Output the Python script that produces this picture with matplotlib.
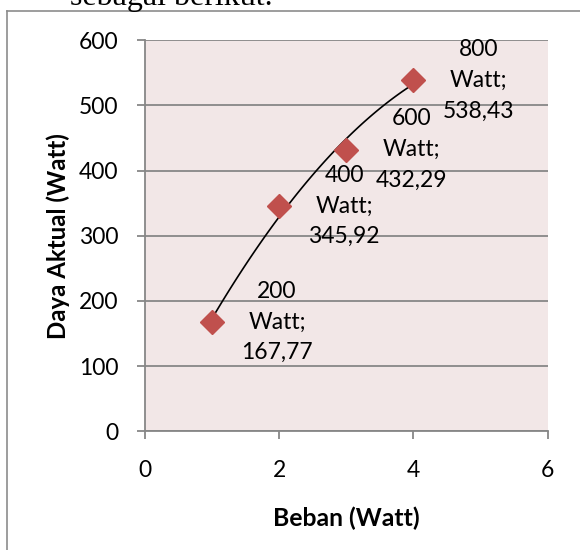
import numpy as np
import matplotlib
matplotlib.use("Agg")
import matplotlib.pyplot as plt
from matplotlib.lines import Line2D

# ---------- Data ----------
beban = [1, 2, 3, 4]
daya_aktual = [167.77, 345.92, 432.29, 538.43]
beban_label = ["200 Watt", "400 Watt", "600 Watt", "800 Watt"]
daya_label = ["167,77", "345,92", "432,29", "538,43"]

x_ticks = [0, 2, 4, 6]
y_ticks = [0, 100, 200, 300, 400, 500, 600]

plt.rcParams['font.family'] = ['Lato', 'DejaVu Sans']

W, H = 580, 550
fig = plt.figure(figsize=(W / 100, H / 100), dpi=100)

# chart border (cut off at right and bottom like the document crop)
fig.add_artist(Line2D([6.5 / W, 6.5 / W], [0, 1 - 10.8 / H], transform=fig.transFigure,
                      color="#8c8c8c", lw=1.2))
fig.add_artist(Line2D([6.5 / W, 1], [1 - 10.8 / H, 1 - 10.8 / H], transform=fig.transFigure,
                      color="#8c8c8c", lw=1.2))

# text from the document above the chart
fig.text(70 / W, 1 - 5.5 / H, "sebagai berikut.", family="Liberation Serif",
         fontsize=23, ha="left", va="baseline")

# ---------- Plot area ----------
ax = fig.add_axes([145 / W, 1 - 431.3 / H, 402.7 / W, 391 / H])
ax.set_facecolor("#f2e7e7")
ax.set_xlim(0, 6)
ax.set_ylim(0, 600)
ax.set_xticks(x_ticks)
ax.set_yticks(y_ticks)
ax.grid(axis="y", color="#878787", lw=1.3)
ax.set_axisbelow(True)

for side in ["top", "right"]:
    ax.spines[side].set_visible(False)
for side in ["left", "bottom"]:
    ax.spines[side].set_color("#878787")
    ax.spines[side].set_linewidth(1.3)

ax.tick_params(axis="both", length=6, width=1.3, color="#878787", labelsize=16.5)
ax.tick_params(axis="y", pad=13)
ax.tick_params(axis="x", pad=15)

# Trendline (polynomial order 2)
coef = np.polyfit(beban, daya_aktual, 2)
xs = np.linspace(min(beban), max(beban), 100)
ax.plot(xs, np.polyval(coef, xs), color="black", lw=1.2, zorder=3)

ax.plot(beban, daya_aktual, linestyle="none", marker="D", markersize=12.5,
        color="#c0504d", zorder=4)

# data labels
for x, y, b, d in zip(beban, daya_aktual, beban_label, daya_label):
    num, unit = b.split(" ")
    ax.annotate(f"{num}\n{unit};\n{d}", (x, y), xytext=(65, 0), textcoords="offset pixels",
                ha="center", va="center", multialignment="center", fontsize=16.5,
                linespacing=1.58, zorder=5)

ax.set_xlabel("Beban (Watt)", fontsize=17.8, fontweight="bold", va="center")
ax.xaxis.set_label_coords(0.5, -0.222)
ax.set_ylabel("Daya Aktual (Watt)", fontsize=17.3, fontweight="bold", va="center")
ax.yaxis.set_label_coords(-0.216, 0.5)

fig.savefig("out.png", dpi=100)
